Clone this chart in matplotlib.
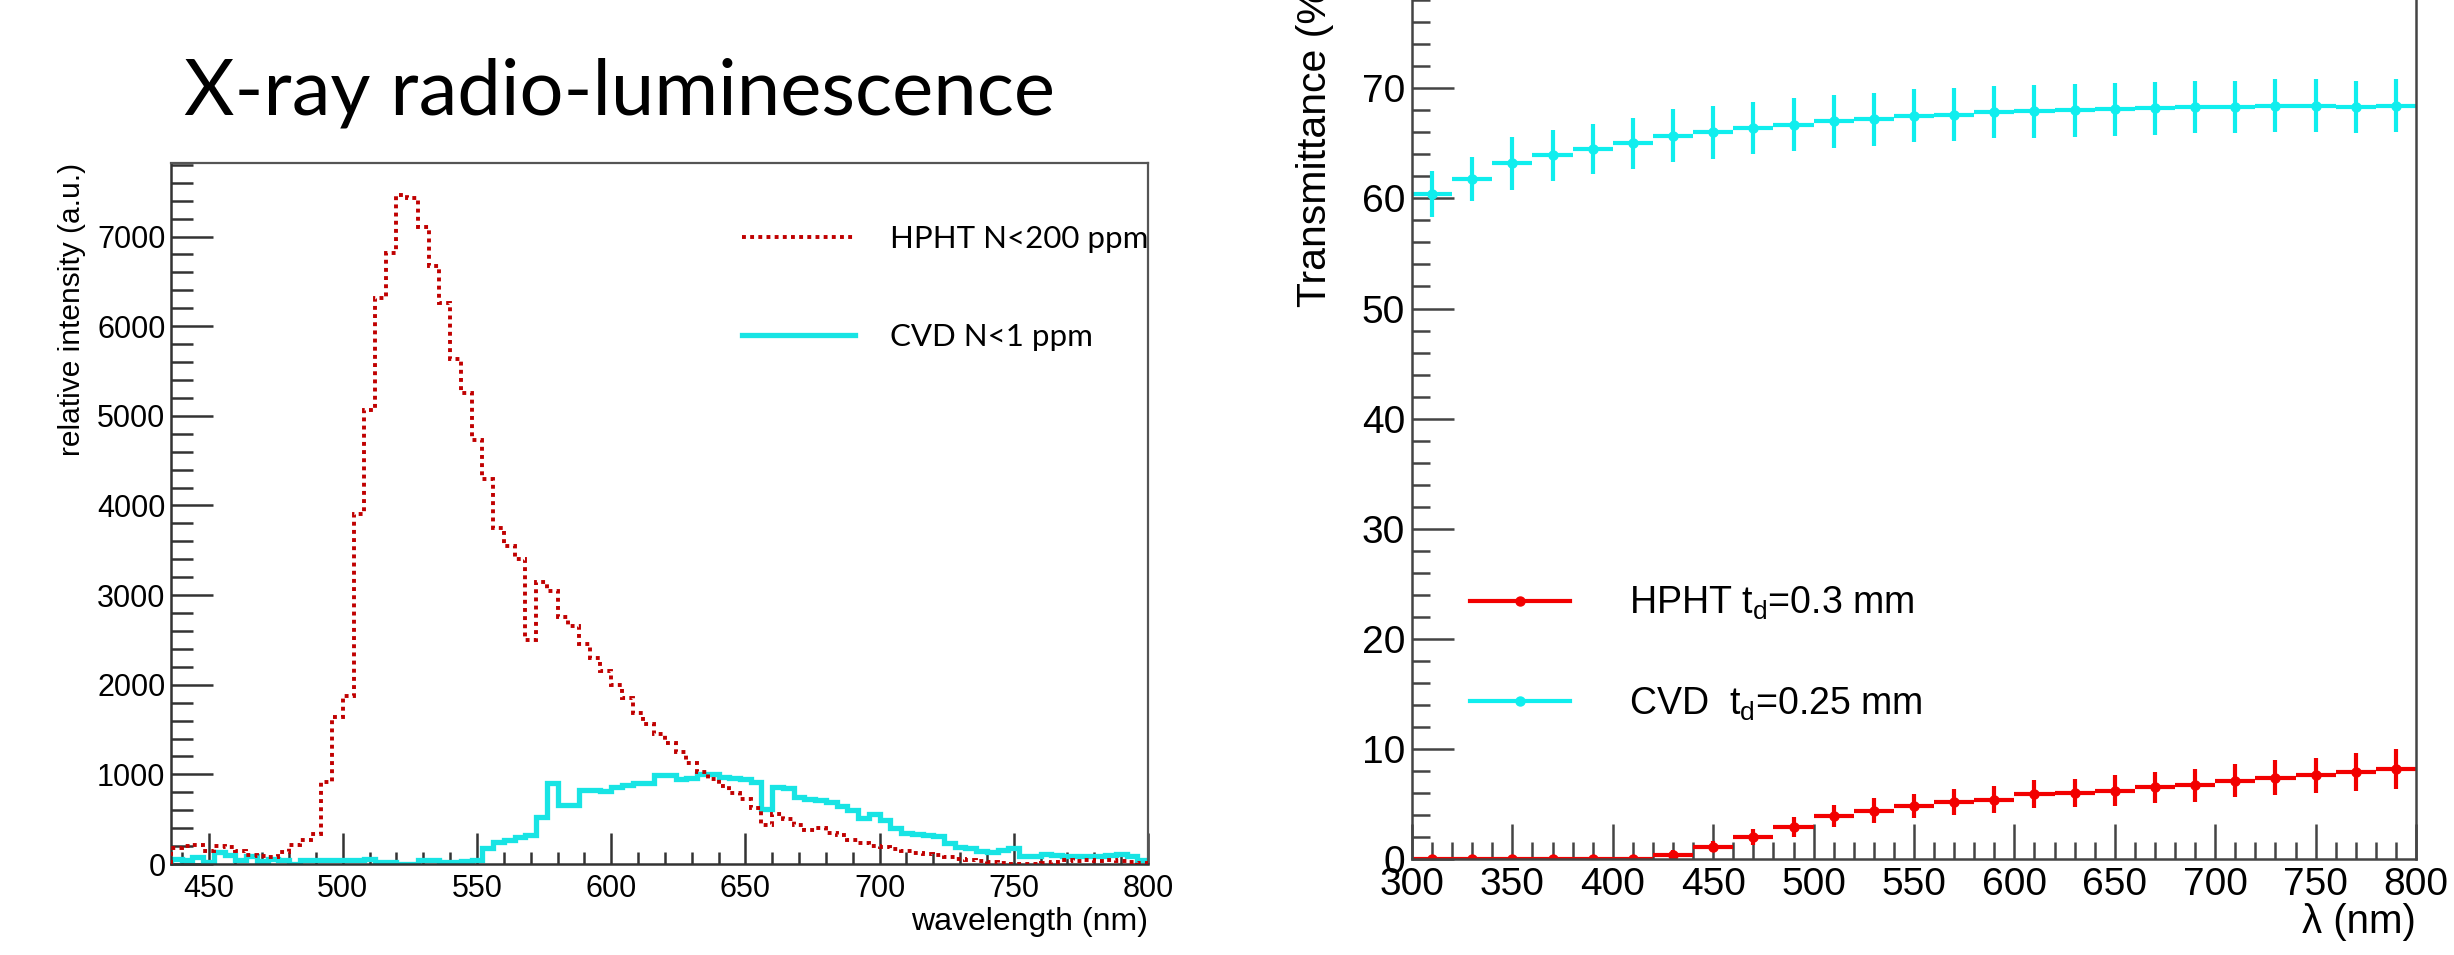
import numpy as np
import matplotlib
matplotlib.use("Agg")
import matplotlib.pyplot as plt
from matplotlib.ticker import MultipleLocator
from matplotlib.lines import Line2D

plt.rcParams["font.family"] = ["Liberation Sans", "DejaVu Sans"]
plt.rcParams["mathtext.fontset"] = "custom"
plt.rcParams["mathtext.rm"] = "Liberation Sans"
plt.rcParams["mathtext.it"] = "Liberation Sans:italic"

# --- radio-luminescence spectra (4 nm bins) ---
bin_edges = np.arange(436, 801, 4)
hpht_rl = [180, 200, 210, 145, 200, 190, 140, 100, 90, 80,
           130, 210, 270, 330, 920, 1640, 1870, 3900, 5070, 6310,
           6815, 7460, 7430, 7110, 6670, 6260, 5630, 5250, 4730, 4300,
           3750, 3550, 3400, 2500, 3150, 3050, 2750, 2650, 2450, 2300,
           2150, 2000, 1850, 1680, 1560, 1450, 1350, 1250, 1130, 1030,
           950, 870, 790, 720, 620, 430, 560, 500, 440, 380,
           400, 350, 320, 270, 230, 200, 190, 170, 150, 120,
           110, 100, 80, 60, 50, 30, 20, 10, 0, 0,
           0, 10, 20, 40, 30, 40, 30, 40, 30, 20, 10]
cvd_rl = [60, 40, 80, 20, 130, 100, 50, 90, 30, 60,
          50, 0, 40, 40, 40, 40, 40, 40, 60, 20,
          20, 0, 0, 40, 40, 20, 20, 30, 40, 180,
          250, 270, 300, 320, 520, 900, 660, 660, 830, 830,
          810, 860, 880, 900, 900, 990, 990, 950, 960, 1000,
          1000, 970, 960, 950, 910, 610, 860, 850, 750, 730,
          710, 690, 650, 600, 510, 560, 490, 400, 350, 330,
          320, 310, 230, 190, 180, 150, 130, 160, 180, 90,
          90, 110, 100, 90, 90, 90, 90, 100, 110, 90, 40]

# --- transmittance ---
wl = [310, 330, 350, 370, 390, 410, 430, 450, 470, 490, 510, 530, 550,
      570, 590, 610, 630, 650, 670, 690, 710, 730, 750, 770, 790]
hpht_T = [0.0, 0.0, 0.0, 0.0, 0.0, 0.0, 0.4, 1.1, 2.0, 2.9, 3.9, 4.4, 4.8,
          5.2, 5.4, 5.9, 6.0, 6.2, 6.5, 6.7, 7.1, 7.4, 7.6, 7.9, 8.2]
hpht_err = [0.2, 0.2, 0.2, 0.2, 0.2, 0.2, 0.4, 0.5, 0.7, 0.9, 1.0, 1.1, 1.1,
            1.2, 1.2, 1.3, 1.3, 1.4, 1.4, 1.5, 1.5, 1.6, 1.6, 1.7, 1.8]
cvd_T = [60.4, 61.8, 63.2, 63.9, 64.5, 65.0, 65.7, 66.0, 66.4, 66.7, 67.0, 67.2, 67.5,
         67.6, 67.85, 67.9, 68.0, 68.1, 68.2, 68.3, 68.3, 68.4, 68.4, 68.3, 68.4]
cvd_err = [2.1, 2.0, 2.4, 2.3, 2.3, 2.3, 2.4, 2.4, 2.4, 2.4, 2.4, 2.4, 2.4,
           2.4, 2.4, 2.4, 2.4, 2.4, 2.4, 2.4, 2.4, 2.4, 2.4, 2.4, 2.4]
wl_halfwidth = 10

red_dots = (0, (1.0, 1.1))

fig = plt.figure(figsize=(24.54, 9.55), dpi=100)

fig.text(184 / 2454, 1 - 115 / 955, "X-ray radio-luminescence",
         family="Lato", fontsize=56, va="baseline", ha="left")

# left panel
ax1 = fig.add_axes([171 / 2454, 91 / 955, 977 / 2454, 701 / 955])
ax1.stairs(cvd_rl, bin_edges, color="#18e4e4", lw=3.8, zorder=2)
ax1.stairs(hpht_rl, bin_edges, color="#c00000", lw=2.8,
           linestyle=red_dots, zorder=3)
ax1.set_xlim(436, 800)
ax1.set_ylim(0, 7820)
ax1.xaxis.set_major_locator(MultipleLocator(50))
ax1.xaxis.set_minor_locator(MultipleLocator(10))
ax1.yaxis.set_major_locator(MultipleLocator(1000))
ax1.yaxis.set_minor_locator(MultipleLocator(200))
ax1.tick_params(which="both", direction="in", top=False, right=False,
                color="#333333", width=1.8, labelsize=22)
ax1.tick_params(which="major", length=22)
ax1.tick_params(axis="y", which="major", length=30, pad=4)
ax1.tick_params(axis="y", which="minor", length=16)
ax1.tick_params(axis="x", which="minor", length=9, pad=7)
ax1.tick_params(axis="x", which="major", pad=7)
for side in ["left", "bottom"]:
    ax1.spines[side].set_color("#333333")
    ax1.spines[side].set_linewidth(1.8)
for side in ["top", "right"]:
    ax1.spines[side].set_color("#555555")
    ax1.spines[side].set_linewidth(1.6)
ax1.set_xlabel("wavelength (nm)", fontsize=23, loc="right", labelpad=2)
fig.text(72 / 2454, 1 - 163 / 955, "relative intensity (a.u.)",
         rotation=90, ha="center", va="top", fontsize=21.5)

h1 = [Line2D([], [], color="#c00000", lw=2.8, linestyle=red_dots),
      Line2D([], [], color="#18e4e4", lw=3.8)]
ax1.legend(h1, ["HPHT N<200 ppm", "CVD N<1 ppm"], loc="upper left",
           bbox_to_anchor=(742 / 2454, 1 - 225 / 955),
           bbox_transform=fig.transFigure, frameon=False,
           prop={"family": "Lato", "size": 22.5}, handlelength=3.6,
           handletextpad=1.15, labelspacing=2.25, borderpad=0,
           borderaxespad=0)

# right panel (frame runs past the top edge)
ax2 = fig.add_axes([1412 / 2454, 96 / 955, 1004 / 2454, 880.8 / 955])
ax2.errorbar(wl, cvd_T, xerr=wl_halfwidth, yerr=cvd_err, fmt="o",
             color="#10eeee", ms=6.5, elinewidth=3.0, capsize=0)
ax2.errorbar(wl, hpht_T, xerr=wl_halfwidth, yerr=hpht_err, fmt="o",
             color="#f20000", ms=6.5, elinewidth=3.0, capsize=0)
ax2.set_xlim(300, 800)
ax2.set_ylim(0, 80)
ax2.xaxis.set_major_locator(MultipleLocator(50))
ax2.xaxis.set_minor_locator(MultipleLocator(10))
ax2.yaxis.set_major_locator(MultipleLocator(10))
ax2.yaxis.set_minor_locator(MultipleLocator(2))
ax2.tick_params(which="both", direction="in", top=False, right=False,
                color="#444444", width=1.8, labelsize=28)
ax2.tick_params(axis="x", which="major", length=25, pad=6)
ax2.tick_params(axis="x", which="minor", length=12)
ax2.tick_params(axis="y", which="major", length=30, pad=5)
ax2.tick_params(axis="y", which="minor", length=13)
for side in ["left", "bottom", "right"]:
    ax2.spines[side].set_color("#444444")
    ax2.spines[side].set_linewidth(1.8)
ax2.set_xlabel("λ (nm)", fontsize=29, loc="right", labelpad=0)
fig.text(1315 / 2454, 1 - 307 / 955, "Transmittance (%)", rotation=90,
         ha="center", va="bottom", fontsize=29.5)

h2 = [Line2D([], [], color="#f20000", lw=3.0, marker="o", ms=6.5),
      Line2D([], [], color="#10eeee", lw=3.0, marker="o", ms=6.5)]
ax2.legend(h2, [r"HPHT t$_\mathregular{d}$=0.3 mm", r"CVD  t$_\mathregular{d}$=0.25 mm"],
           loc="upper left", bbox_to_anchor=(1470 / 2454, 1 - 585 / 955),
           bbox_transform=fig.transFigure, frameon=False, fontsize=27,
           handlelength=2.67, handletextpad=1.57, labelspacing=1.68,
           borderpad=0, borderaxespad=0)

plt.savefig("out.png", dpi=100)
